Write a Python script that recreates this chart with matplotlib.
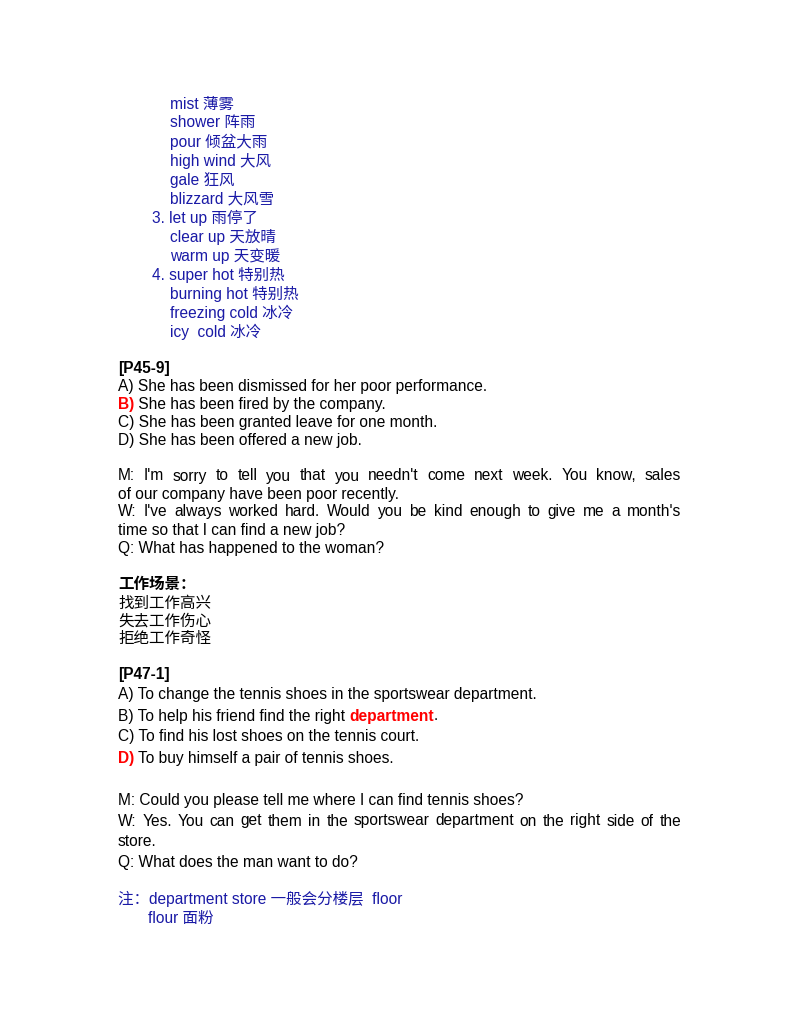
import matplotlib
matplotlib.use("Agg")
import matplotlib.pyplot as plt

BLUE = "#1a1aa6"
RED = "#ff0000"
BLACK = "#000000"
FAM = ["Liberation Sans", "Noto Sans CJK SC"]

# (x_px, y_px, segments[(text, color, bold)], justify_to)
vocab_lines = [
    (170, 104, [("mist 薄雾", BLUE, False)], None),
    (170, 123, [("shower 阵雨", BLUE, False)], None),
    (170, 142, [("pour 倾盆大雨", BLUE, False)], None),
    (170, 161, [("high wind 大风", BLUE, False)], None),
    (170, 180, [("gale 狂风", BLUE, False)], None),
    (170, 199, [("blizzard 大风雪", BLUE, False)], None),
    (152, 218, [("3. let up 雨停了", BLUE, False)], None),
    (170, 237, [("clear up 天放晴", BLUE, False)], None),
    (170, 256, [("warm up 天变暖", BLUE, False)], None),
    (152, 275, [("4. super hot 特别热", BLUE, False)], None),
    (170, 294, [("burning hot 特别热", BLUE, False)], None),
    (170, 313, [("freezing cold 冰冷", BLUE, False)], None),
    (170, 332, [("icy  cold 冰冷", BLUE, False)], None),
]
p45_lines = [
    (118, 368, [("[P45-9]", BLACK, True)], None),
    (118, 386, [("A) She has been dismissed for her poor performance.", BLACK, False)], None),
    (118, 405, [("B)", RED, True), (" She has been fired by the company.", BLACK, False)], None),
    (118, 422, [("C) She has been granted leave for one month.", BLACK, False)], None),
    (118, 440, [("D) She has been offered a new job.", BLACK, False)], None),
    (118, 476, [("M: I'm sorry to tell you that you needn't come next week. You know, sales", BLACK, False)], 681),
    (118, 494, [("of our company have been poor recently.", BLACK, False)], None),
    (118, 512, [("W: I've always worked hard. Would you be kind enough to give me a month's", BLACK, False)], 681),
    (118, 530, [("time so that I can find a new job?", BLACK, False)], None),
    (118, 548, [("Q: What has happened to the woman?", BLACK, False)], None),
    (118, 585, [("工作场景：", BLACK, True)], None),
    (118, 603, [("找到工作高兴", BLACK, False)], None),
    (118, 621, [("失去工作伤心", BLACK, False)], None),
    (118, 639, [("拒绝工作奇怪", BLACK, False)], None),
]
p47_lines = [
    (118, 675, [("[P47-1]", BLACK, True)], None),
    (118, 695, [("A) To change the tennis shoes in the sportswear department.", BLACK, False)], None),
    (118, 716, [("B) To help his friend find the right ", BLACK, False), ("department", RED, True), (".", BLACK, False)], None),
    (118, 737, [("C) To find his lost shoes on the tennis court.", BLACK, False)], None),
    (118, 758, [("D)", RED, True), (" To buy himself a pair of tennis shoes.", BLACK, False)], None),
    (118, 800, [("M: Could you please tell me where I can find tennis shoes?", BLACK, False)], None),
    (118, 821, [("W: Yes. You can get them in the sportswear department on the right side of the", BLACK, False)], 681),
    (118, 841, [("store.", BLACK, False)], None),
    (118, 862, [("Q: What does the man want to do?", BLACK, False)], None),
    (118, 899, [("注：department store 一般会分楼层  floor", BLUE, False)], None),
    (148, 918, [("flour 面粉", BLUE, False)], None),
]

W, H = 800, 1035
fig = plt.figure(figsize=(8, 10.35), dpi=100)
fig.patch.set_facecolor("white")
renderer = fig.canvas.get_renderer()
FS = 11.2

def put(x, y, s, color, bold):
    t = fig.text(x / W, 1 - y / H, s, color=color, fontsize=FS, family=FAM,
                 fontweight="bold" if bold else "normal", va="center", ha="left")
    return t.get_window_extent(renderer).width

for x, y, segs, just in vocab_lines + p45_lines + p47_lines:
    if just is not None:
        words = segs[0][0].split(" ")
        widths = []
        for w in words:
            t = fig.text(0, 0, w, fontsize=FS, family=FAM)
            widths.append(t.get_window_extent(renderer).width)
            t.remove()
        gap = (just - x - sum(widths)) / (len(words) - 1)
        cx = x
        for w, wd in zip(words, widths):
            put(cx, y, w, segs[0][1], segs[0][2])
            cx += wd + gap
    else:
        cx = x
        for s, c, b in segs:
            cx += put(cx, y, s, c, b)

fig.savefig("out.png", dpi=100, facecolor="white")
